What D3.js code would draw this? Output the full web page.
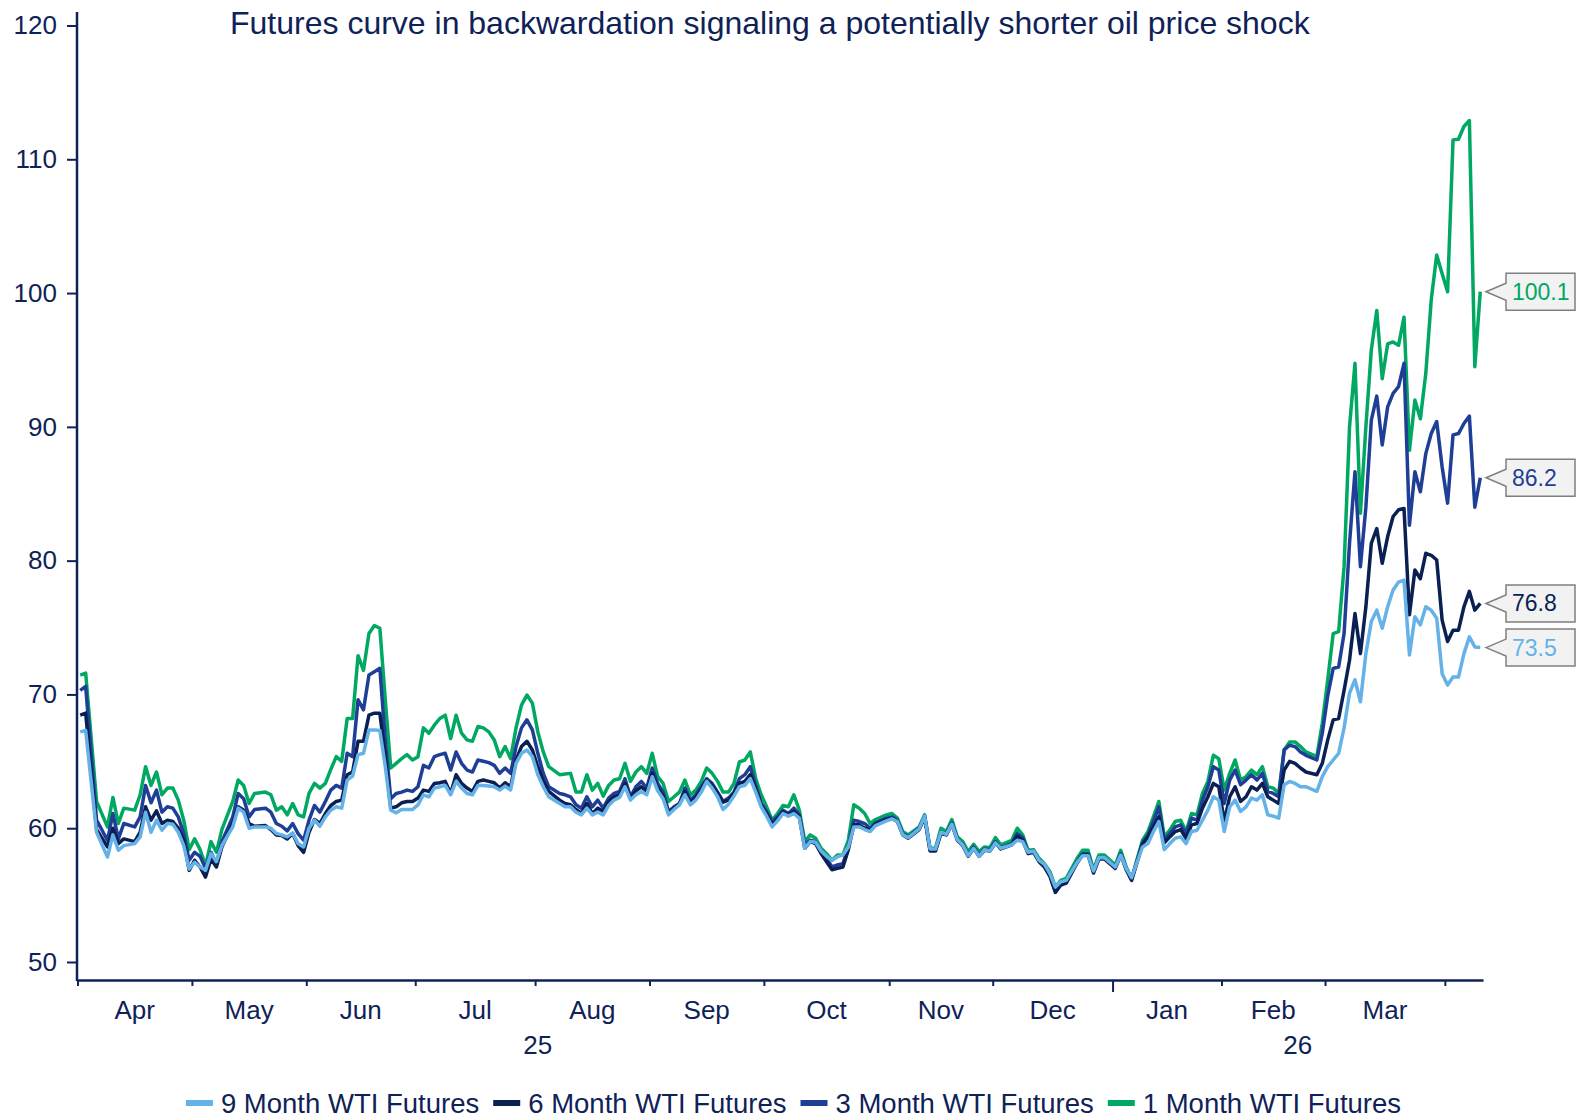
<!DOCTYPE html>
<html>
<head>
<meta charset="utf-8">
<script src="https://cdnjs.cloudflare.com/ajax/libs/d3/7.8.5/d3.min.js"></script>
<style>
  body { margin: 0; background: #fff; }
  svg { display: block; font-family: "Liberation Sans", Arial, sans-serif; }
</style>
</head>
<body>
<svg id="chart" width="1585" height="1120"></svg>
<script>
// trading-day index from 1 Apr 2025 (one slot per trading day)
const tradingDay = [
  0, 1, 3, 5, 6, 7, 8, 10, 11, 12, 13, 14, 15, 16, 17, 18, 19, 20, 21, 22, 23, 24, 25, 26, 28, 29, 30, 31, 32, 34,
  35, 36, 37, 38, 39, 40, 41, 42, 43, 44, 45, 46, 47, 48, 49, 50, 51, 52, 53, 54, 55, 56, 57, 58, 59, 60, 61, 62, 63, 64,
  65, 66, 67, 68, 69, 70, 71, 72, 73, 74, 75, 76, 77, 78, 79, 80, 81, 82, 83, 84, 85, 86, 88, 89, 90, 91, 92, 93, 94, 95,
  96, 97, 98, 99, 100, 101, 102, 103, 104, 105, 106, 107, 108, 109, 110, 111, 112, 113, 114, 115, 116, 117, 118, 119, 120, 121, 122, 123, 124, 125,
  126, 127, 128, 129, 130, 131, 132, 133, 134, 135, 136, 137, 138, 139, 140, 141, 142, 143, 144, 145, 146, 148, 149, 150, 151, 152, 154, 155, 156, 157,
  158, 159, 160, 161, 162, 163, 164, 165, 166, 167, 168, 169, 171, 172, 173, 174, 175, 176, 177, 178, 179, 180, 181, 183, 184, 185, 186, 187, 188, 190,
  191, 192, 193, 195, 196, 197, 198, 199, 200, 201, 202, 203, 204, 205, 206, 207, 208, 209, 210, 211, 212, 213, 214, 215, 216, 217, 218, 219, 220, 221,
  222, 223, 224, 225, 227, 228, 229, 230, 231, 232, 233, 234, 235, 236, 237, 238, 239, 240, 241, 242, 243, 244, 245, 246, 247, 248, 249, 250, 251, 252,
  253, 254, 255, 256, 257
];

const wti1m = [
  71.45, 71.6, 62.0, 60.1, 62.3, 60.35, 61.5, 61.35, 62.5, 64.6, 63.2, 64.2, 62.5, 63.0, 63.0, 62.1, 60.6, 58.4, 59.2, 58.4, 57.2, 59.0, 58.2, 59.9, 62.0, 63.6, 63.2, 61.85, 62.6, 62.7,
  62.5, 61.35, 61.6, 61.0, 61.85, 61.0, 60.85, 62.6, 63.35, 63.0, 63.35, 64.4, 65.35, 65.0, 68.2, 68.2, 72.9, 71.8, 74.55, 75.15, 74.95, 69.6, 64.5, 64.85, 65.2, 65.5, 65.1, 65.35, 67.5, 67.1,
  67.7, 68.2, 68.45, 66.7, 68.45, 67.1, 66.6, 66.5, 67.6, 67.5, 67.2, 66.6, 65.35, 66.1, 65.2, 67.5, 69.2, 69.95, 69.35, 67.2, 65.7, 64.6, 64.0, 64.05, 64.1, 62.7, 62.7, 64.0, 62.85, 63.35,
  62.4, 63.2, 63.6, 63.7, 64.85, 63.5, 64.2, 64.6, 64.1, 65.6, 63.85, 63.35, 62.0, 62.35, 62.7, 63.6, 62.5, 62.85, 63.5, 64.5, 64.1, 63.5, 62.7, 62.7, 63.35, 64.95, 65.1, 65.7, 63.7, 62.5,
  61.6, 60.6, 61.1, 61.7, 61.6, 62.5, 61.35, 59.0, 59.5, 59.25, 58.5, 58.1, 57.6, 58.0, 58.0, 59.1, 61.75, 61.5, 61.1, 60.35, 60.65, 61.0, 61.1, 60.75, 59.75, 59.5, 60.1, 61.0, 58.5, 58.5,
  60.0, 59.75, 60.65, 59.35, 59.0, 58.25, 58.8, 58.25, 58.6, 58.55, 59.3, 58.75, 59.1, 60.0, 59.5, 58.35, 58.4, 57.75, 57.35, 56.75, 55.6, 56.1, 56.25, 57.75, 58.35, 58.35, 56.9, 58.0, 58.0, 57.25,
  58.35, 57.1, 56.25, 59.1, 59.75, 60.85, 62.0, 59.35, 59.85, 60.5, 60.6, 59.75, 61.1, 61.0, 62.6, 63.5, 65.45, 65.2, 62.85, 64.1, 65.1, 63.6, 63.85, 64.35, 64.0, 64.6, 63.1, 63.0, 62.6, 65.85,
  66.45, 66.45, 66.1, 65.7, 65.35, 67.85, 71.1, 74.55, 74.7, 79.55, 90.0, 94.75, 83.55, 90.0, 95.75, 98.7, 93.6, 96.2, 96.35, 96.1, 98.2, 88.25, 92.0, 90.6, 94.0, 99.5, 102.85, 101.45, 100.1, 111.45,
  111.5, 112.45, 112.9, 94.5, 100.1
];

const wti3m = [
  70.3, 70.6, 60.6, 59.1, 61.1, 59.2, 60.35, 60.1, 60.85, 63.2, 61.9, 62.85, 61.2, 61.6, 61.5, 60.85, 59.6, 57.6, 58.2, 57.9, 57.0, 58.2, 57.35, 59.0, 60.85, 62.6, 62.2, 60.85, 61.4, 61.5,
  61.2, 60.35, 60.15, 59.8, 60.35, 59.6, 59.1, 60.6, 61.7, 61.2, 62.0, 62.85, 63.2, 63.0, 65.6, 65.35, 69.6, 68.85, 71.45, 71.7, 71.95, 66.6, 62.2, 62.6, 62.7, 62.85, 62.75, 63.1, 64.7, 64.5,
  65.35, 65.5, 65.6, 64.35, 65.7, 64.85, 64.35, 64.2, 65.1, 65.0, 64.9, 64.7, 64.1, 64.5, 64.1, 66.1, 67.5, 68.1, 67.35, 65.6, 64.1, 63.1, 62.6, 62.5, 62.35, 61.75, 61.5, 62.35, 61.6, 62.1,
  61.5, 62.25, 62.6, 62.75, 63.7, 62.35, 63.1, 63.5, 63.0, 64.5, 63.35, 62.7, 61.25, 61.6, 61.85, 63.0, 62.1, 62.5, 63.1, 63.7, 63.35, 62.7, 62.0, 62.25, 62.7, 63.7, 64.0, 64.6, 63.2, 61.85,
  61.25, 60.5, 60.85, 61.35, 61.1, 61.5, 61.0, 58.75, 59.1, 59.0, 58.25, 57.75, 57.1, 57.25, 57.35, 58.6, 60.6, 60.5, 60.35, 60.0, 60.4, 60.75, 60.85, 60.6, 59.6, 59.35, 60.0, 60.9, 58.4, 58.4,
  59.7, 59.6, 60.4, 59.2, 58.8, 58.0, 58.6, 58.0, 58.45, 58.4, 59.0, 58.55, 58.85, 59.6, 59.3, 58.2, 58.3, 57.6, 57.2, 56.55, 55.35, 55.85, 56.0, 57.5, 58.1, 58.1, 56.75, 57.8, 57.8, 57.1,
  58.1, 57.0, 56.2, 58.9, 59.5, 60.5, 61.6, 59.1, 59.6, 60.1, 60.25, 59.6, 60.75, 60.6, 62.1, 63.1, 64.6, 64.35, 61.85, 63.6, 64.35, 63.25, 63.6, 64.0, 63.6, 64.1, 62.75, 62.6, 62.35, 65.85,
  66.2, 66.1, 65.7, 65.45, 65.1, 67.1, 69.9, 71.95, 72.05, 74.55, 81.3, 86.65, 79.55, 84.0, 90.5, 92.3, 88.65, 91.5, 92.5, 93.0, 94.75, 82.65, 86.65, 85.15, 88.0, 89.5, 90.4, 87.0, 84.3, 89.4,
  89.5, 90.25, 90.8, 84.0, 86.2
];

const wti6m = [
  68.45, 68.6, 59.9, 58.6, 60.0, 58.85, 59.2, 59.0, 59.7, 61.6, 60.6, 61.3, 60.35, 60.6, 60.5, 60.0, 59.1, 56.85, 57.6, 57.1, 56.35, 57.7, 57.1, 58.6, 60.35, 61.6, 61.35, 60.35, 60.15, 60.2,
  59.9, 59.5, 59.45, 59.2, 59.6, 58.7, 58.2, 59.7, 60.65, 60.35, 61.1, 61.7, 62.0, 62.1, 64.0, 64.2, 66.5, 66.5, 68.45, 68.6, 68.6, 65.35, 61.5, 61.6, 61.9, 62.0, 62.0, 62.25, 62.85, 62.75,
  63.35, 63.4, 63.5, 62.6, 64.0, 63.35, 63.0, 62.75, 63.5, 63.6, 63.5, 63.4, 63.0, 63.4, 63.1, 65.1, 66.1, 66.5, 65.85, 64.6, 63.5, 62.75, 62.1, 61.85, 61.75, 61.4, 61.1, 61.85, 61.1, 61.5,
  61.25, 62.0, 62.35, 62.5, 63.35, 62.25, 62.8, 63.1, 62.75, 64.1, 63.0, 62.4, 61.1, 61.5, 61.8, 62.75, 61.9, 62.3, 62.9, 63.6, 63.2, 62.6, 61.95, 62.1, 62.6, 63.35, 63.5, 64.0, 62.95, 61.75,
  61.05, 60.25, 60.7, 61.2, 61.0, 61.25, 60.85, 58.5, 59.0, 58.85, 58.1, 57.5, 56.9, 57.0, 57.1, 58.4, 60.25, 60.25, 60.0, 59.85, 60.3, 60.65, 60.75, 60.5, 59.5, 59.25, 59.9, 60.8, 58.3, 58.3,
  59.6, 59.5, 60.3, 59.1, 58.7, 57.9, 58.5, 57.9, 58.35, 58.3, 58.9, 58.45, 58.75, 59.4, 59.1, 58.1, 58.2, 57.5, 57.1, 56.4, 55.2, 55.75, 55.9, 57.4, 58.0, 58.0, 56.65, 57.7, 57.7, 57.0,
  58.0, 56.9, 56.1, 58.8, 59.35, 60.1, 60.85, 58.9, 59.35, 59.75, 59.9, 59.25, 60.25, 60.35, 61.5, 62.35, 63.35, 63.1, 60.5, 62.35, 63.1, 62.0, 62.35, 63.1, 62.85, 63.35, 62.35, 62.1, 61.85, 64.35,
  65.0, 64.85, 64.5, 64.2, 64.0, 64.85, 66.6, 68.1, 68.2, 70.3, 72.55, 76.05, 73.05, 76.55, 81.3, 82.4, 79.8, 81.8, 83.3, 83.8, 83.9, 75.95, 79.3, 78.65, 80.55, 80.4, 80.05, 75.55, 73.95, 74.8,
  74.8, 76.55, 77.7, 76.3, 76.8
];

const wti9m = [
  67.2, 67.3, 59.7, 57.85, 59.5, 58.35, 58.7, 58.85, 59.35, 61.2, 59.7, 60.6, 59.85, 60.35, 60.3, 59.7, 58.7, 56.95, 57.45, 57.1, 56.85, 58.1, 57.5, 58.7, 60.1, 61.5, 61.2, 60.0, 60.1, 60.1,
  60.0, 59.6, 59.5, 59.35, 59.65, 58.85, 58.6, 60.0, 60.6, 60.15, 60.85, 61.35, 61.6, 61.5, 63.6, 63.9, 65.5, 65.6, 67.35, 67.35, 67.3, 64.6, 61.35, 61.15, 61.4, 61.4, 61.4, 61.75, 62.5, 62.35,
  63.0, 63.1, 63.2, 62.5, 63.5, 63.0, 62.6, 62.5, 63.2, 63.2, 63.15, 63.1, 62.85, 63.15, 62.85, 64.85, 65.6, 65.85, 65.35, 64.0, 63.1, 62.35, 61.85, 61.6, 61.6, 61.2, 61.0, 61.5, 61.0, 61.2,
  61.0, 61.7, 62.1, 62.3, 63.1, 62.1, 62.5, 62.75, 62.5, 63.85, 62.8, 62.2, 61.0, 61.4, 61.75, 62.5, 61.75, 62.1, 62.7, 63.5, 63.0, 62.35, 61.4, 61.8, 62.4, 63.1, 63.2, 63.7, 62.7, 61.6,
  60.9, 60.1, 60.55, 61.1, 60.9, 61.1, 60.75, 58.5, 59.0, 58.95, 58.3, 57.9, 57.6, 57.85, 58.0, 58.6, 60.1, 60.1, 59.9, 59.75, 60.2, 60.55, 60.7, 60.5, 59.5, 59.3, 59.95, 60.9, 58.45, 58.45,
  59.7, 59.55, 60.3, 59.15, 58.75, 57.95, 58.5, 57.9, 58.4, 58.3, 58.9, 58.5, 58.75, 59.1, 59.0, 58.2, 58.3, 57.6, 57.3, 56.6, 55.6, 56.0, 56.1, 57.45, 57.95, 57.95, 56.8, 57.8, 57.8, 57.1,
  58.0, 57.0, 56.3, 58.6, 58.85, 59.75, 60.5, 58.4, 58.85, 59.25, 59.35, 58.85, 59.75, 59.85, 60.6, 61.35, 62.35, 62.1, 59.75, 61.6, 62.1, 61.25, 61.6, 62.25, 62.1, 62.5, 61.0, 60.9, 60.75, 63.25,
  63.5, 63.35, 63.1, 63.1, 62.75, 63.85, 64.6, 65.1, 65.6, 67.5, 70.1, 71.1, 69.45, 73.05, 75.45, 76.3, 74.95, 76.55, 77.8, 78.4, 78.55, 72.95, 75.8, 75.2, 76.55, 76.3, 75.7, 71.55, 70.7, 71.3,
  71.3, 73.05, 74.3, 73.55, 73.5
];

const monthLabels = ['Apr', 'May', 'Jun', 'Jul', 'Aug', 'Sep', 'Oct', 'Nov', 'Dec', 'Jan', 'Feb', 'Mar'];
const monthTradingDays = [21, 21, 20, 22, 21, 21, 23, 19, 22, 20, 19, 22];
const yearLabels = ['25', '26'];
const yTicks = [50, 60, 70, 80, 90, 100, 110, 120];

const title = 'Futures curve in backwardation signaling a potentially shorter oil price shock';
const navy = '#0f2257';

const series = [
  { name: '9 Month WTI Futures', values: wti9m, color: '#64b2e8' },
  { name: '6 Month WTI Futures', values: wti6m, color: '#0a1f52' },
  { name: '3 Month WTI Futures', values: wti3m, color: '#1f3f96' },
  { name: '1 Month WTI Futures', values: wti1m, color: '#00a862' }
];

const svg = d3.select('#chart');
svg.append('rect').attr('width', 1585).attr('height', 1120).attr('fill', '#fff');

const axisY = 980;
const x = d3.scaleLinear().domain([0, 258]).range([77.5, 1483]);
const y = d3.scaleLinear().domain([50, 120]).range([962, 25.5]);

// month boundaries in trading days
const bounds = [0];
monthTradingDays.forEach(n => bounds.push(bounds[bounds.length - 1] + n));
const yearStart = bounds[9];

// y axis
const gy = svg.append('g').attr('transform', 'translate(77,0)')
  .call(d3.axisLeft(y).tickValues(yTicks).tickSize(10).tickPadding(10).tickSizeOuter(0));
gy.select('.domain').remove();
gy.selectAll('line').attr('stroke', navy).attr('stroke-width', 2);
gy.selectAll('text').attr('fill', navy).attr('font-size', 26)
  .attr('font-family', '"Liberation Sans", Arial, sans-serif');
svg.append('line').attr('x1', 77).attr('x2', 77).attr('y1', y(121)).attr('y2', axisY + 1)
  .attr('stroke', navy).attr('stroke-width', 2.5);

// x axis
const gx = svg.append('g').attr('transform', `translate(0,${axisY})`)
  .call(d3.axisBottom(x).tickValues(bounds).tickFormat('').tickSize(6).tickSizeOuter(0));
gx.select('.domain').attr('stroke', navy).attr('stroke-width', 2.5);
gx.selectAll('.tick line').attr('stroke', navy).attr('stroke-width', 2)
  .attr('y2', d => d === yearStart ? 12 : 6);

svg.append('g').selectAll('text')
  .data(monthLabels)
  .join('text')
  .attr('x', (d, i) => x((bounds[i] + bounds[i + 1]) / 2))
  .attr('y', 1019)
  .attr('text-anchor', 'middle')
  .attr('font-size', 26)
  .attr('fill', navy)
  .text(d => d);

const yearAnchor = [84.5, (yearStart + 258) / 2];
svg.append('g').selectAll('text')
  .data(yearLabels)
  .join('text')
  .attr('x', (d, i) => x(yearAnchor[i]))
  .attr('y', 1054)
  .attr('text-anchor', 'middle')
  .attr('font-size', 26)
  .attr('fill', navy)
  .text(d => d);

// lines
const line = d3.line()
  .x((d, i) => x(tradingDay[i] + 0.5))
  .y(d => y(d));

svg.append('g').selectAll('path')
  .data(series.slice().reverse())
  .join('path')
  .attr('d', d => line(d.values))
  .attr('fill', 'none')
  .attr('stroke', d => d.color)
  .attr('stroke-width', 3.5)
  .attr('stroke-linejoin', 'round');

// end-value callouts
const tipX = 1486, boxL = 1506, boxR = 1575, halfH = 18.5, notch = 8.5;
const callouts = svg.append('g').selectAll('g')
  .data(series)
  .join('g')
  .attr('transform', d => `translate(0,${y(d.values[d.values.length - 1])})`);
callouts.append('path')
  .attr('d', `M${tipX},0 L${boxL},${-notch} L${boxL},${-halfH} L${boxR},${-halfH} L${boxR},${halfH} L${boxL},${halfH} L${boxL},${notch} Z`)
  .attr('fill', '#f2f2f2')
  .attr('stroke', '#7f7f7f')
  .attr('stroke-width', 1.5);
callouts.append('text')
  .attr('x', boxL + 6)
  .attr('y', 8)
  .attr('font-size', 23)
  .attr('fill', d => d.color)
  .text(d => d3.format('.1f')(d.values[d.values.length - 1]));

// title
svg.append('text')
  .attr('x', 230)
  .attr('y', 34)
  .attr('font-size', 32)
  .attr('fill', navy)
  .text(title);

// legend
const legend = svg.append('g');
let lx = 0;
series.forEach(s => {
  const item = legend.append('g').attr('transform', `translate(${lx},0)`);
  item.append('line').attr('x1', 0).attr('x2', 27).attr('y1', 0).attr('y2', 0)
    .attr('stroke', s.color).attr('stroke-width', 6);
  const t = item.append('text').attr('x', 35).attr('y', 9.5).attr('font-size', 27.5)
    .attr('fill', navy).text(s.name);
  lx += 35 + t.node().getComputedTextLength() + 14;
});
const legendW = lx - 14;
legend.attr('transform', `translate(${793.5 - legendW / 2},1103)`);
</script>
</body>
</html>
